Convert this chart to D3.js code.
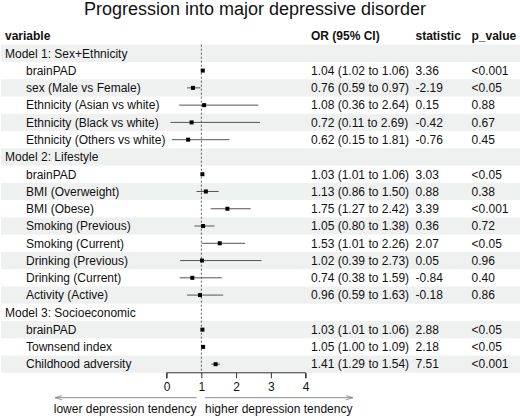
<!DOCTYPE html>
<html>
<head>
<meta charset="utf-8">
<script src="https://cdn.jsdelivr.net/npm/d3@7"></script>
<style>
  body { margin: 0; background: #fff; }
  svg text { font-family: "Liberation Sans", Arial, Helvetica, sans-serif; fill: #111; }
</style>
</head>
<body>
<svg id="chart"></svg>
<script>
// rows of the table (group rows have no estimate)
var labels = ["Model 1: Sex+Ethnicity", "brainPAD", "sex (Male vs Female)", "Ethnicity (Asian vs white)",
  "Ethnicity (Black vs white)", "Ethnicity (Others vs white)", "Model 2: Lifestyle", "brainPAD",
  "BMI (Overweight)", "BMI (Obese)", "Smoking (Previous)", "Smoking (Current)", "Drinking (Previous)",
  "Drinking (Current)", "Activity (Active)", "Model 3: Socioeconomic", "brainPAD", "Townsend index",
  "Childhood adversity"];
var isGroup = [1,0,0,0,0,0,1,0,0,0,0,0,0,0,0,1,0,0,0];
var est  = [null,1.04,0.76,1.08,0.72,0.62,null,1.03,1.13,1.75,1.05,1.53,1.02,0.74,0.96,null,1.03,1.05,1.41];
var low  = [null,1.02,0.59,0.36,0.11,0.15,null,1.01,0.86,1.27,0.80,1.01,0.39,0.38,0.59,null,1.01,1.00,1.29];
var high = [null,1.06,0.97,2.64,2.69,1.81,null,1.06,1.50,2.42,1.38,2.26,2.73,1.59,1.63,null,1.06,1.09,1.54];
var stat = ["","3.36","-2.19","0.15","-0.42","-0.76","","3.03","0.88","3.39","0.36","2.07","0.05","-0.84","-0.18","","2.88","2.18","7.51"];
var pval = ["","<0.001","<0.05","0.88","0.67","0.45","","<0.05","0.38","<0.001","0.72","<0.05","0.96","0.40","0.86","","<0.05","<0.05","<0.001"];
var xTicks = [0, 1, 2, 3, 4];

var w = 520, h = 416;
var f2 = d3.format(".2f");

var svg = d3.select("#chart").attr("width", w).attr("height", h);

var idx = d3.range(labels.length);
var yScale = d3.scaleBand().domain(idx).range([44.7, 372.8]).padding(0);
var xScale = d3.scaleLinear().domain([0, 4]).range([166.6, 305.6]);
var rh = yScale.bandwidth();

// Title
svg.append("text")
  .attr("x", 255).attr("y", 14.5)
  .attr("text-anchor", "middle")
  .style("font-size", "18px")
  .text("Progression into major depressive disorder");

// column headers
var headers = [["variable", 5], ["OR (95% CI)", 311], ["statistic", 415.5], ["p_value", 471.5]];
svg.selectAll(".hdr").data(headers).enter().append("text")
  .attr("class", "hdr")
  .attr("x", function(d) { return d[1]; })
  .attr("y", 39.5)
  .style("font-size", "12px")
  .style("font-weight", "bold")
  .text(function(d) { return d[0]; });

// striped rows
svg.selectAll(".band").data(idx.filter(function(i) { return i % 2 == 0; })).enter().append("rect")
  .attr("class", "band")
  .attr("x", 1).attr("width", w - 1)
  .attr("y", function(i) { return yScale(i); })
  .attr("height", rh)
  .attr("fill", "#eff0f0");

// text columns
var rows = svg.selectAll(".row").data(idx).enter().append("g")
  .attr("class", "row")
  .attr("transform", function(i) { return "translate(0," + (yScale(i) + rh / 2 + 4.3) + ")"; });

rows.append("text")
  .attr("x", function(i) { return isGroup[i] ? 5 : 26; })
  .style("font-size", "12px")
  .text(function(i) { return labels[i]; });

rows.append("text")
  .attr("x", 311)
  .style("font-size", "12px")
  .text(function(i) { return est[i] == null ? "" : f2(est[i]) + " (" + f2(low[i]) + " to " + f2(high[i]) + ")"; });

rows.append("text")
  .attr("x", 415.5)
  .style("font-size", "12px")
  .text(function(i) { return stat[i]; });

rows.append("text")
  .attr("x", 471.5)
  .style("font-size", "12px")
  .text(function(i) { return pval[i]; });

// reference line at OR = 1
svg.append("line")
  .attr("x1", xScale(1)).attr("x2", xScale(1))
  .attr("y1", yScale(0)).attr("y2", yScale.range()[1])
  .attr("stroke", "#333").attr("stroke-width", 0.8)
  .attr("stroke-dasharray", "2,2");

var pts = idx.filter(function(i) { return est[i] != null; });

// CI lines
svg.selectAll(".ci").data(pts).enter().append("line")
  .attr("class", "ci")
  .attr("x1", function(i) { return xScale(low[i]); })
  .attr("x2", function(i) { return xScale(high[i]); })
  .attr("y1", function(i) { return yScale(i) + rh / 2; })
  .attr("y2", function(i) { return yScale(i) + rh / 2; })
  .attr("stroke", "#555").attr("stroke-width", 1);

// point estimates
var bs = 4;
svg.selectAll(".pt").data(pts).enter().append("rect")
  .attr("class", "pt")
  .attr("x", function(i) { return xScale(est[i]) - bs / 2; })
  .attr("y", function(i) { return yScale(i) + rh / 2 - bs / 2; })
  .attr("width", bs).attr("height", bs)
  .attr("fill", "#000");

// x axis
var xAxis = d3.axisBottom(xScale).tickValues(xTicks).tickSize(5.5).tickPadding(4).tickFormat(d3.format("d"));
var ax = svg.append("g")
  .attr("transform", "translate(0," + yScale.range()[1] + ")")
  .call(xAxis);
ax.select(".domain").attr("stroke", "#333").attr("d", "M" + xScale(0) + ",5.5V0H" + xScale(4) + "V5.5");
ax.selectAll(".tick line").attr("stroke", "#333");
ax.selectAll(".tick text")
  .style("font-size", "12px")
  .style("font-family", "'Liberation Sans', Arial, sans-serif")
  .attr("fill", "#111");

// direction arrows
var defs = svg.append("defs");
defs.append("marker")
  .attr("id", "arr")
  .attr("viewBox", "0 0 10 10")
  .attr("refX", 10).attr("refY", 5)
  .attr("markerWidth", 7).attr("markerHeight", 7)
  .attr("markerUnits", "userSpaceOnUse")
  .attr("orient", "auto")
  .append("path")
  .attr("d", "M0,2L10,5L0,8")
  .attr("fill", "none")
  .attr("stroke", "#888")
  .attr("stroke-width", 1.2);

var ay = 397.7;
svg.append("line")
  .attr("x1", 196.7).attr("x2", 55).attr("y1", ay).attr("y2", ay)
  .attr("stroke", "#888").attr("stroke-width", 1)
  .attr("marker-end", "url(#arr)");
svg.append("line")
  .attr("x1", 205).attr("x2", 353).attr("y1", ay).attr("y2", ay)
  .attr("stroke", "#888").attr("stroke-width", 1)
  .attr("marker-end", "url(#arr)");

svg.append("text")
  .attr("x", 196.5).attr("y", 413)
  .attr("text-anchor", "end")
  .style("font-size", "12px")
  .text("lower depression tendency");
svg.append("text")
  .attr("x", 205).attr("y", 413)
  .style("font-size", "12px")
  .text("higher depression tendency");
</script>
</body>
</html>
